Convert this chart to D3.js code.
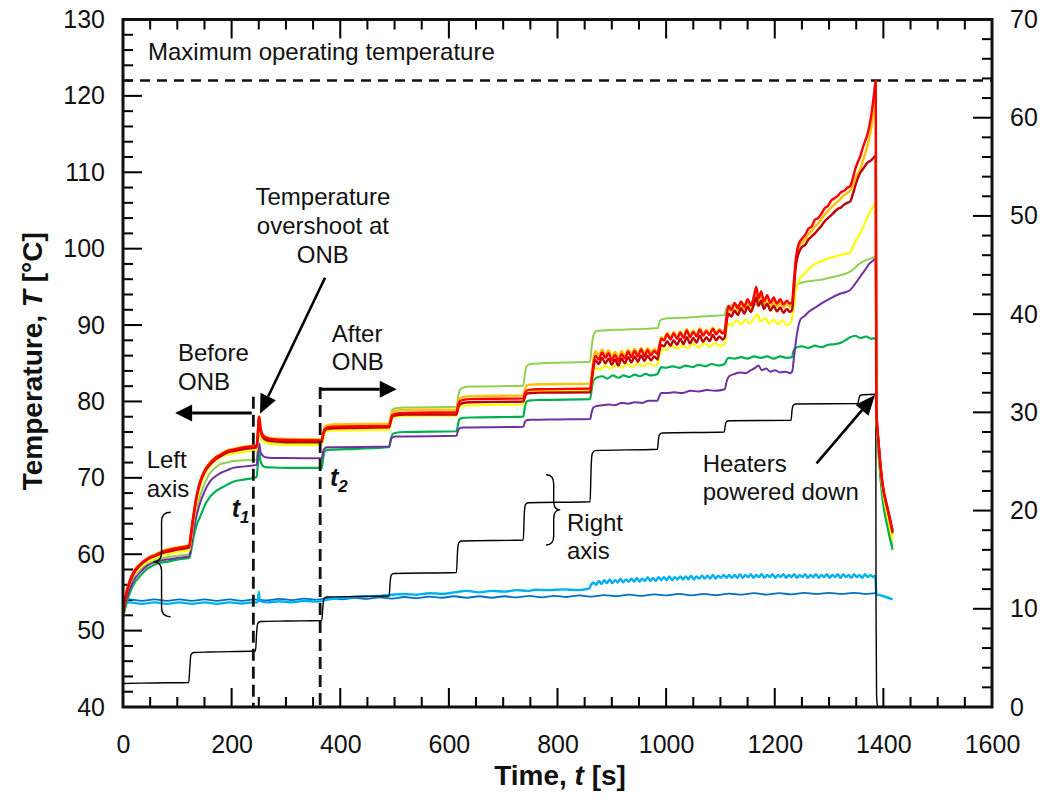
<!DOCTYPE html>
<html>
<head>
<meta charset="utf-8">
<script src="https://cdn.jsdelivr.net/npm/d3@7"></script>
</head>
<body style="margin:0">
<svg id="chart" width="1048" height="808" style="display:block;font-family:'Liberation Sans', Arial, sans-serif"></svg>
<script>
// tick labels
const xTicks = [0, 200, 400, 600, 800, 1000, 1200, 1400, 1600];
const leftTicks = [40, 50, 60, 70, 80, 90, 100, 110, 120, 130];
const rightTicks = [0, 10, 20, 30, 40, 50, 60, 70];

const maxTemp = 122; // maximum operating temperature
const t1 = 240;
const t2 = 363;

// [time s, temperature °C] (left axis)
const red = [[0,52.0],[3,53.8],[7,55.2],[13,56.6],[20,57.7],[31,58.6],[45,59.4],[60,59.9],[80,60.5],[100,60.8],[122,61.1],
  [125,62.6],[130,65.2],[136,67.8],[142,69.5],[150,70.9],[160,71.9],[170,72.6],[179,73.0],[192,73.5],[203,73.7],[225,74.0],[246,74.2],
  [248,75.5],[250,77.8],[251,78.0],[253,76.6],[256,75.8],[262,75.3],[275,75.05],[300,74.95],[366,74.9],
  [368,75.6],[371,76.3],[376,76.6],[390,76.7],[490,76.8],
  [493,77.6],[496,78.2],[502,78.4],[520,78.5],[614,78.6],
  [617,79.5],[620,80.0],[626,80.2],[640,80.3],[737,80.4],
  [740,81.0],[743,81.4],[750,81.55],[770,81.6],[860,81.7],
  [863,83.0],[866,84.8],[870,86.0],[876,85.5],[882,86.4],[888,85.7],[894,86.3],[900,85.4],[906,86.1],[912,85.3],[918,86.2],[924,85.6],[930,86.5],[936,85.8],[942,86.6],[948,85.9],[954,86.8],[960,85.9],[966,86.7],[972,86.0],[978,86.6],[984,86.2],
  [987,87.0],[991,88.2],[996,88.0],[1002,88.8],[1008,88.1],[1014,88.9],[1020,88.2],[1026,89.0],[1032,88.3],[1038,89.3],[1044,88.4],[1050,89.1],[1056,88.5],[1062,89.4],[1068,88.6],[1074,89.2],[1080,88.7],[1086,89.5],[1092,88.8],[1098,89.3],[1104,88.9],[1108,89.2],
  [1111,91.0],[1115,92.5],[1120,92.0],[1126,92.9],[1132,92.2],[1138,93.1],[1144,92.4],[1150,93.4],[1156,92.6],[1162,93.9],[1166,95.0],[1170,93.5],[1175,94.4],[1180,93.1],[1186,93.9],[1192,92.9],[1198,93.6],[1204,92.8],[1210,93.4],[1216,92.7],[1222,93.2],[1228,92.8],[1232,93.0],
  [1235,95.5],[1239,98.8],[1244,100.6],[1250,101.3],[1256,101.8],[1262,102.6],[1268,102.9],[1274,103.8],[1280,104.0],[1286,104.6],[1292,105.3],[1298,105.6],[1304,106.3],[1310,106.6],[1316,106.9],[1322,107.4],[1328,107.6],[1334,108.0],[1339,108.2],[1344,109.3],[1349,110.6],[1354,111.5],[1358,112.2],[1362,113.2],[1366,114.0],[1370,114.8],[1374,116.0],[1378,117.6],[1382,119.8],[1386,122.0],
  [1387,79.4],[1391,74.8],[1398,69.5],[1408,66.0],[1417,63.1]];

const darkRed = [[0,52.0],[3,53.7],[7,55.0],[13,56.4],[20,57.5],[31,58.5],[45,59.3],[60,59.8],[80,60.3],[100,60.6],[122,60.9],
  [125,62.4],[130,65.0],[136,67.6],[142,69.3],[150,70.7],[160,71.7],[170,72.4],[179,72.8],[192,73.3],[203,73.5],[225,73.8],[246,74.0],
  [248,75.2],[250,77.4],[251,77.6],[253,76.3],[256,75.5],[262,75.0],[275,74.8],[300,74.7],[366,74.7],
  [368,75.4],[371,76.1],[376,76.4],[390,76.5],[490,76.6],
  [493,77.4],[496,78.0],[502,78.2],[520,78.3],[614,78.3],
  [617,79.2],[620,79.6],[626,79.8],[640,79.9],[737,80.0],
  [740,80.6],[743,81.0],[750,81.1],[770,81.15],[860,81.2],
  [863,82.6],[866,84.3],[870,85.4],[876,84.9],[882,85.7],[888,85.0],[894,85.6],[900,84.8],[906,85.5],[912,84.7],[918,85.6],[924,85.0],[930,85.8],[936,85.1],[942,85.9],[948,85.2],[954,86.0],[960,85.3],[966,86.0],[972,85.4],[978,85.9],[984,85.5],
  [987,86.4],[991,87.4],[996,87.2],[1002,87.9],[1008,87.3],[1014,88.0],[1020,87.4],[1026,88.2],[1032,87.5],[1038,88.4],[1044,87.6],[1050,88.3],[1056,87.7],[1062,88.6],[1068,87.8],[1074,88.4],[1080,87.9],[1086,88.7],[1092,88.0],[1098,88.5],[1104,88.1],[1108,88.4],
  [1111,90.2],[1115,91.5],[1120,91.1],[1126,91.9],[1132,91.3],[1138,92.2],[1144,91.5],[1150,92.4],[1156,91.7],[1162,92.8],[1166,93.6],[1170,92.5],[1175,93.2],[1180,92.1],[1186,92.8],[1192,91.9],[1198,92.5],[1204,91.8],[1210,92.3],[1216,91.6],[1222,92.1],[1228,91.7],[1232,92.0],
  [1235,94.5],[1239,97.8],[1244,99.4],[1250,100.2],[1256,100.5],[1262,101.2],[1268,101.6],[1274,102.0],[1280,102.5],[1286,103.0],[1292,103.6],[1298,104.0],[1304,104.4],[1310,104.8],[1316,105.2],[1322,105.4],[1328,105.8],[1334,106.0],[1339,106.2],[1344,107.2],[1349,108.4],[1354,109.4],[1358,110.0],[1362,110.4],[1366,110.8],[1370,111.2],[1374,111.4],[1378,111.6],[1382,111.9],[1386,112.2],
  [1387,79.0],[1391,74.6],[1398,69.3],[1408,65.8],[1417,62.8]];

const orange = [[0,52.1],[3,53.9],[7,55.3],[13,56.7],[20,57.8],[31,58.7],[45,59.5],[60,60.0],[80,60.6],[100,60.9],[122,61.2],
  [125,62.7],[130,65.3],[136,67.9],[142,69.6],[150,71.0],[160,72.0],[170,72.7],[179,73.1],[192,73.6],[203,73.8],[225,74.1],[246,74.3],
  [248,75.6],[250,77.9],[251,78.1],[253,76.7],[256,75.9],[262,75.4],[275,75.15],[300,75.1],[366,75.05],
  [368,75.8],[371,76.6],[376,76.9],[390,77.0],[490,77.1],
  [493,78.0],[496,78.6],[502,78.8],[520,78.9],[614,78.95],
  [617,79.9],[620,80.4],[626,80.6],[640,80.7],[737,80.8],
  [740,81.6],[743,82.1],[750,82.2],[770,82.25],[860,82.3],
  [863,83.6],[866,85.4],[870,86.6],[876,86.0],[882,86.8],[888,86.1],[894,86.7],[900,85.9],[906,86.5],[912,85.8],[918,86.6],[924,86.0],[930,86.8],[936,86.2],[942,86.9],[948,86.3],[954,87.0],[960,86.3],[966,87.0],[972,86.4],[978,86.9],[984,86.5],
  [987,87.3],[991,88.4],[996,88.2],[1002,89.0],[1008,88.3],[1014,89.1],[1020,88.4],[1026,89.2],[1032,88.5],[1038,89.5],[1044,88.6],[1050,89.3],[1056,88.7],[1062,89.6],[1068,88.8],[1074,89.4],[1080,88.9],[1086,89.7],[1092,89.0],[1098,89.5],[1104,89.1],[1108,89.4],
  [1111,90.8],[1115,92.2],[1120,91.8],[1126,92.6],[1132,91.9],[1138,92.8],[1144,92.1],[1150,93.0],[1156,92.3],[1162,93.5],[1166,94.4],[1170,93.1],[1175,93.9],[1180,92.7],[1186,93.5],[1192,92.5],[1198,93.2],[1204,92.4],[1210,93.0],[1216,92.3],[1222,92.8],[1228,92.4],[1232,92.6],
  [1235,95.0],[1239,98.2],[1244,100.0],[1250,100.8],[1256,101.2],[1262,101.9],[1268,102.3],[1274,102.9],[1280,103.3],[1286,103.9],[1292,104.5],[1298,104.9],[1304,105.4],[1310,105.8],[1316,106.2],[1322,106.6],[1328,107.0],[1334,107.3],[1339,107.6],[1344,108.4],[1349,109.3],[1354,110.0],[1358,110.5],[1362,111.5],[1366,112.3],[1370,113.3],[1374,114.5],[1378,116.0],[1382,117.8],[1386,119.5],
  [1387,79.2],[1391,74.6],[1398,69.3],[1408,65.6],[1417,62.6]];

const yellow = [[0,52.3],[3,53.8],[7,55.0],[13,56.3],[20,57.3],[31,58.2],[45,59.0],[60,59.5],[80,60.0],[100,60.3],[122,60.5],
  [125,61.8],[130,64.4],[136,67.0],[142,68.9],[150,70.4],[160,71.5],[170,72.2],[179,72.7],[192,73.0],[203,73.2],[225,73.4],[246,73.6],
  [248,74.8],[250,76.9],[251,77.1],[253,75.8],[256,75.0],[262,74.6],[275,74.4],[300,74.3],[366,74.3],
  [368,75.0],[371,75.8],[376,76.1],[390,76.2],[490,76.3],
  [493,77.2],[496,77.8],[502,78.0],[520,78.1],[614,78.15],
  [617,78.9],[620,79.3],[626,79.45],[640,79.5],[737,79.6],
  [740,80.6],[743,81.1],[750,81.3],[770,81.35],[860,81.4],
  [863,82.3],[866,83.6],[870,84.4],[878,84.2],[888,84.7],[898,84.3],[908,84.8],[918,84.4],[928,84.9],[938,84.5],[948,85.0],[958,84.6],[968,85.0],[978,84.7],[985,84.9],
  [987,85.7],[991,86.8],[1000,86.7],[1010,87.2],[1020,86.9],[1030,87.3],[1040,87.0],[1050,87.5],[1060,87.1],[1070,87.6],[1080,87.2],[1090,87.6],[1100,87.3],[1108,87.5],
  [1111,89.2],[1115,90.2],[1122,90.0],[1130,90.6],[1138,90.1],[1146,90.7],[1154,90.2],[1162,90.9],[1168,91.4],[1174,90.5],[1182,90.9],[1190,90.2],[1198,90.7],[1206,90.1],[1214,90.6],[1222,90.0],[1230,90.4],
  [1234,91.8],[1238,94.2],[1244,95.8],[1250,96.4],[1258,97.0],[1266,97.6],[1277,98.1],[1288,98.4],[1298,98.7],[1308,98.9],[1318,99.1],[1328,99.3],[1339,99.5],[1346,100.6],[1352,101.4],[1357,102.0],[1364,103.0],[1370,104.0],[1376,104.9],[1382,105.6],[1386,106.0],
  [1387,78.8],[1391,74.2],[1398,68.8],[1408,64.9],[1417,61.9]];

const lightGreen = [[0,52.4],[3,53.7],[7,54.9],[13,56.1],[20,57.1],[31,58.0],[45,58.7],[60,59.2],[80,59.6],[100,59.8],[122,60.0],
  [125,61.2],[130,63.6],[136,66.0],[142,67.6],[150,69.2],[160,70.6],[170,71.3],[179,71.8],[192,72.0],[203,72.2],[225,72.3],[246,72.4],
  [248,73.8],[250,76.2],[251,76.5],[253,75.4],[256,74.9],[262,74.7],[275,74.6],[300,74.55],[366,74.5],
  [368,75.4],[371,76.5],[376,76.85],[390,76.95],[490,77.1],
  [493,78.1],[496,78.9],[502,79.1],[520,79.2],[614,79.3],
  [617,80.6],[620,81.5],[626,81.8],[640,81.95],[737,82.05],
  [740,83.6],[743,84.6],[750,84.9],[770,85.0],[860,85.2],
  [863,87.2],[866,88.6],[871,89.2],[885,89.3],[920,89.4],[960,89.5],[985,89.6],
  [987,90.2],[991,90.7],[1000,90.85],[1040,91.0],[1080,91.2],[1108,91.3],
  [1110,92.0],[1114,92.5],[1125,92.6],[1170,92.7],[1232,92.8],
  [1234,94.0],[1239,95.2],[1247,95.5],[1270,95.8],[1290,96.0],[1308,96.3],[1325,96.6],[1339,97.0],[1348,97.5],[1357,98.1],[1368,98.5],[1380,98.8],[1386,99.0],
  [1387,78.6],[1391,73.8],[1398,68.2],[1408,64.0],[1417,61.1]];

const green = [[0,51.6],[3,52.6],[7,53.7],[13,55.0],[20,56.1],[31,57.1],[45,58.1],[60,58.7],[80,59.0],[100,59.3],[122,59.5],
  [125,60.3],[130,62.3],[136,63.9],[142,64.9],[150,66.3],[160,67.5],[170,68.2],[179,68.6],[192,69.1],[203,69.5],[225,69.8],[246,70.1],
  [248,71.5],[250,73.2],[251,73.4],[253,72.3],[256,71.7],[262,71.4],[275,71.35],[300,71.3],[366,71.3],
  [368,72.3],[371,73.4],[376,73.65],[390,73.7],[430,73.8],[490,74.0],
  [493,75.0],[496,75.7],[502,75.9],[520,76.0],[614,76.1],
  [617,77.1],[620,77.7],[626,77.85],[640,77.9],[737,78.0],
  [740,79.3],[743,80.0],[750,80.15],[770,80.2],[860,80.3],
  [863,81.6],[866,82.7],[872,83.1],[882,83.3],[892,83.0],[902,83.4],[912,83.1],[922,83.4],[932,83.2],[942,83.5],[952,83.3],[962,83.6],[972,83.4],[984,83.6],
  [987,84.0],[991,84.5],[1000,84.4],[1012,84.6],[1024,84.4],[1036,84.7],[1048,84.5],[1060,84.8],[1072,84.6],[1084,84.9],[1096,84.7],[1108,84.9],
  [1111,85.4],[1115,85.7],[1126,85.6],[1138,85.8],[1150,85.6],[1162,85.9],[1174,85.7],[1186,85.9],[1198,85.6],[1210,85.9],[1222,85.7],[1232,85.8],
  [1234,86.5],[1238,87.0],[1250,87.2],[1262,87.0],[1274,87.3],[1286,87.1],[1298,87.4],[1310,87.5],[1322,87.7],[1330,88.0],[1339,88.4],[1348,88.6],[1358,88.3],[1368,88.5],[1378,88.2],[1386,88.3],
  [1387,78.0],[1391,73.2],[1398,67.5],[1408,63.4],[1417,60.6]];

const purple = [[0,52.0],[3,53.2],[7,54.3],[13,55.5],[20,56.6],[31,57.6],[45,58.5],[60,59.0],[80,59.3],[100,59.5],[122,59.7],
  [125,60.8],[130,63.1],[136,65.2],[142,66.7],[150,68.2],[160,69.5],[170,70.2],[179,70.6],[192,71.0],[203,71.3],[225,71.5],[246,71.7],
  [248,73.0],[250,74.4],[251,74.5],[253,73.5],[256,73.0],[262,72.7],[275,72.6],[300,72.6],[366,72.55],
  [368,73.3],[371,73.85],[376,74.0],[390,74.0],[490,74.1],
  [493,74.9],[496,75.3],[502,75.4],[520,75.4],[614,75.5],
  [617,76.2],[620,76.5],[626,76.6],[640,76.6],[737,76.7],
  [740,77.3],[743,77.55],[750,77.6],[800,77.65],[860,77.7],
  [863,78.6],[866,79.2],[872,79.4],[882,79.5],[895,79.6],[905,79.5],[918,79.8],[930,79.7],[942,79.9],[955,79.8],[968,80.1],[984,80.1],
  [987,80.6],[991,81.1],[1000,81.1],[1015,81.2],[1030,81.1],[1045,81.4],[1060,81.3],[1075,81.5],[1090,81.4],[1108,81.6],
  [1111,82.5],[1116,83.3],[1126,83.6],[1136,83.8],[1146,83.7],[1156,84.1],[1164,84.4],[1170,84.7],[1176,84.1],[1184,84.3],[1192,83.9],[1200,84.1],[1210,83.8],[1220,83.9],[1228,83.7],[1232,83.9],
  [1235,85.5],[1240,88.4],[1247,90.7],[1255,91.2],[1264,91.8],[1277,92.4],[1290,93.0],[1300,93.4],[1308,93.7],[1320,94.1],[1330,94.3],[1339,94.6],[1348,95.4],[1357,96.3],[1366,97.2],[1374,98.0],[1382,98.5],[1386,98.7],
  [1387,79.3],[1391,74.7],[1398,69.4],[1408,65.9],[1417,63.1]];

const lightBlue = [[0,53.55],[12,53.7],[35,53.5],[58,53.7],[81,53.5],[104,53.7],[127,53.5],[150,53.7],[173,53.5],[196,53.7],[219,53.55],[240,53.7],
  [248,53.7],[250,55.1],[252,53.9],[265,53.7],[288,53.85],[311,53.7],[334,53.9],[357,53.8],[380,54.1],[403,54.3],[426,54.4],[449,54.5],[472,54.55],
  [495,54.7],[518,54.8],[541,54.7],[564,54.9],[587,54.8],[610,55.0],[633,55.2],[656,55.0],[679,55.2],[702,55.1],[725,55.3],[745,55.2],[760,55.35],[785,55.3],[810,55.4],[835,55.3],[858,55.5],
  [862,56.0],[866,56.3],[871,56.0],[876,56.5],[881,56.1],[886,56.6],[891,56.2],[896,56.7],[901,56.2],[906,56.6],[911,56.3],[916,56.8],[921,56.3],[926,56.7],[931,56.4],[936,56.8],[941,56.4],[946,56.9],[951,56.4],[956,56.8],[961,56.5],[966,57.0],[971,56.5],[976,56.9],[981,56.5],[986,57.0],[991,56.6],[996,57.0],[1001,56.6],[1006,57.1],[1011,56.6],[1016,57.0],[1021,56.7],[1026,57.1],[1031,56.7],[1036,57.1],[1041,56.7],[1046,57.2],[1051,56.7],[1056,57.1],[1061,56.8],[1066,57.2],[1071,56.8],[1076,57.2],[1081,56.8],[1086,57.3],[1091,56.8],[1096,57.2],[1101,56.9],[1106,57.3],[1111,56.9],[1116,57.3],[1121,56.9],[1126,57.3],[1131,56.9],[1136,57.4],[1141,56.9],[1146,57.3],[1151,57.0],[1156,57.4],[1161,56.9],[1166,57.3],[1171,57.0],[1176,57.4],[1181,56.9],[1186,57.3],[1191,57.0],[1196,57.4],[1201,56.9],[1206,57.3],[1211,57.0],[1216,57.4],[1221,56.9],[1226,57.3],[1231,57.0],[1236,57.4],[1241,56.9],[1246,57.3],[1251,57.0],[1256,57.4],[1261,56.9],[1266,57.3],[1271,57.0],[1276,57.4],[1281,56.9],[1286,57.3],[1291,57.0],[1296,57.4],[1301,56.9],[1306,57.3],[1311,57.0],[1316,57.4],[1321,56.9],[1326,57.4],[1331,57.0],[1336,57.3],[1341,56.9],[1346,57.4],[1351,57.0],[1356,57.3],[1361,56.9],[1366,57.4],[1371,57.0],[1376,57.3],[1381,57.0],[1385,57.2],
  [1387,54.8],[1395,54.6],[1405,54.4],[1417,54.1]];

const blue = [[0,53.95],[12,54.1],[35,53.9],[58,54.1],[81,53.9],[104,54.1],[127,53.9],[150,54.1],[173,53.9],[196,54.1],[219,53.9],[242,54.1],[265,53.95],[288,54.15],[311,54.0],[334,54.2],[357,54.05],[380,54.25],[403,54.1],[426,54.3],[449,54.15],[472,54.35],[495,54.2],[518,54.4],[541,54.25],[564,54.45],[587,54.3],[610,54.5],[633,54.3],[656,54.5],[679,54.3],[702,54.5],[725,54.35],[748,54.55],[771,54.35],[794,54.55],[817,54.4],[840,54.6],[863,54.45],[886,54.65],[909,54.5],[932,54.7],[955,54.55],[978,54.75],[1001,54.6],[1024,54.8],[1047,54.6],[1070,54.8],[1093,54.65],[1116,54.85],[1139,54.7],[1162,54.9],[1185,54.7],[1208,54.9],[1231,54.75],[1254,54.95],[1277,54.8],[1300,54.95],[1323,54.8],[1346,54.95],[1369,54.8],[1386,54.9]];

// heater step, right axis
const power = [[0,2.4],[60,2.45],[121,2.5],[123,4.0],[125,5.3],[130,5.55],[160,5.6],[244,5.7],[246,7.5],[248,8.5],[253,8.7],[300,8.75],[366,8.8],
  [368,10.2],[370,11.0],[375,11.2],[430,11.25],[490,11.3],[492,12.8],[494,13.45],[499,13.6],[614,13.7],[616,15.9],[618,16.7],[623,16.9],[737,17.0],
  [739,19.8],[741,20.6],[746,20.8],[860,20.9],[862,24.5],[864,25.8],[869,26.1],[984,26.25],[986,27.3],[988,27.75],[993,27.9],[1107,28.0],
  [1109,28.7],[1111,29.05],[1116,29.15],[1230,29.2],[1232,30.3],[1234,30.7],[1239,30.85],[1353,30.9],[1355,31.4],[1357,31.7],[1362,31.8],[1385,31.85],
  [1386,31.0],[1386.5,10],[1387.5,1.2],[1389,0.2],[1392,0],[1400,0]];

const svg = d3.select('#chart');
const plot = { left: 123, right: 992, top: 19.5, bottom: 707 };

const x = d3.scaleLinear().domain([0, 1600]).range([plot.left, plot.right]);
const yL = d3.scaleLinear().domain([40, 130]).range([plot.bottom, plot.top]);
const yR = d3.scaleLinear().domain([0, 70]).range([plot.bottom, plot.top]);

// tick marks, all pointing inside
const tickG = svg.append('g').attr('fill', '#000');
const xTickMarks = d3.range(0, 1601, 50).map(v => ({ p: x(v), len: v % 200 === 0 ? 19 : 10 }));
tickG.selectAll('rect.xb').data(xTickMarks).join('rect').attr('class', 'xb')
  .attr('x', d => d.p - 1).attr('y', d => plot.bottom - d.len).attr('width', 2).attr('height', d => d.len);
tickG.selectAll('rect.xt').data(xTickMarks).join('rect').attr('class', 'xt')
  .attr('x', d => d.p - 1).attr('y', plot.top).attr('width', 2).attr('height', d => d.len);
tickG.selectAll('rect.yl').data(d3.range(40, 131, 2).map(v => ({ p: yL(v), len: v % 10 === 0 ? 19 : 10 })))
  .join('rect').attr('class', 'yl')
  .attr('x', plot.left).attr('y', d => d.p - 1).attr('width', d => d.len).attr('height', 2);
tickG.selectAll('rect.yr').data(d3.range(0, 71, 2).map(v => ({ p: yR(v), len: v % 10 === 0 ? 19 : 10 })))
  .join('rect').attr('class', 'yr')
  .attr('x', d => plot.right - d.len).attr('y', d => d.p - 1).attr('width', d => d.len).attr('height', 2);

// tick labels through d3 axes
function addLabels(axis, tx, ty) {
  const g = svg.append('g').attr('transform', `translate(${tx},${ty})`).call(axis);
  g.select('.domain').remove();
  g.selectAll('.tick line').remove();
  g.selectAll('.tick text').attr('font-size', 25).attr('fill', '#111');
}
addLabels(d3.axisBottom(x).tickValues(xTicks).tickSize(0).tickPadding(28).tickFormat(d3.format('d')), 0, plot.bottom);
addLabels(d3.axisLeft(yL).tickValues(leftTicks).tickSize(0).tickPadding(18), plot.left, 0);
addLabels(d3.axisRight(yR).tickValues(rightTicks).tickSize(0).tickPadding(18), plot.right, 0);

// max operating temperature
svg.append('line')
  .attr('x1', plot.left).attr('x2', plot.right)
  .attr('y1', yL(maxTemp)).attr('y2', yL(maxTemp))
  .attr('stroke', '#111').attr('stroke-width', 2.5).attr('stroke-dasharray', '10,7');

// data lines
const lineL = d3.line().x(d => x(d[0])).y(d => yL(d[1])).curve(d3.curveMonotoneX);
const lineR = d3.line().x(d => x(d[0])).y(d => yR(d[1])).curve(d3.curveMonotoneX);

const lines = svg.append('g').attr('fill', 'none').attr('stroke-linejoin', 'round');
lines.append('path').attr('d', lineL(blue)).attr('stroke', '#0070C0').attr('stroke-width', 1.8);
lines.append('path').attr('d', lineL(lightBlue)).attr('stroke', '#00B0F0').attr('stroke-width', 2.4);
lines.append('path').attr('d', lineR(power)).attr('stroke', '#000').attr('stroke-width', 1.4);

const tempSeries = [
  { data: lightGreen, color: '#92D050', w: 2 },
  { data: green, color: '#00B050', w: 2.2 },
  { data: purple, color: '#7030A0', w: 2 },
  { data: yellow, color: '#FFFF00', w: 2.2 },
  { data: orange, color: '#FFC000', w: 2.4 },
  { data: darkRed, color: '#C00000', w: 2.4 },
  { data: red, color: '#FF0000', w: 2.4 },
];
tempSeries.forEach(s => {
  lines.append('path').attr('d', lineL(s.data)).attr('stroke', s.color).attr('stroke-width', s.w);
});

// t1 / t2 markers
[[t1, 80.6], [t2, 81.9]].forEach(([t, top]) => {
  svg.append('line')
    .attr('x1', x(t)).attr('x2', x(t))
    .attr('y1', yL(top)).attr('y2', yL(40))
    .attr('stroke', '#111').attr('stroke-width', 2.8).attr('stroke-dasharray', '12,6');
});

// arrows
function arrow(p0, p1, w, headLen, headHalf) {
  const [x0, y0] = [x(p0[0]), yL(p0[1])];
  const [x1, y1] = [x(p1[0]), yL(p1[1])];
  const a = Math.atan2(y1 - y0, x1 - x0);
  const bx = x1 - headLen * Math.cos(a), by = y1 - headLen * Math.sin(a);
  svg.append('line').attr('x1', x0).attr('y1', y0).attr('x2', bx).attr('y2', by)
    .attr('stroke', '#000').attr('stroke-width', w);
  const nx = -Math.sin(a) * headHalf, ny = Math.cos(a) * headHalf;
  svg.append('path')
    .attr('d', `M${x1},${y1}L${bx + nx},${by + ny}L${bx - nx},${by - ny}Z`)
    .attr('fill', '#000');
}
arrow([237, 78.5], [96, 78.5], 3, 17, 8.5);
arrow([t2, 81.6], [504, 81.6], 3, 17, 8.5);
arrow([372, 96.2], [252.2, 78.4], 2.6, 19, 8.5);
arrow([1277, 71.9], [1384.6, 80.85], 2.6, 20, 8.5);

// braces
function brace(xe, xs, xt, yTop, yTip, yBot) {
  const [e, s, tt] = [x(xe), x(xs), x(xt)];
  const [a, m, b] = [yL(yTop), yL(yTip), yL(yBot)];
  svg.append('path')
    .attr('d', `M${e},${a}Q${s},${a} ${s},${a + 9}L${s},${m - 9}Q${s},${m} ${tt},${m}` +
      `Q${s},${m} ${s},${m + 9}L${s},${b - 9}Q${s},${b} ${e},${b}`)
    .attr('fill', 'none').attr('stroke', '#000').attr('stroke-width', 1.4);
}
brace(88, 71, 56, 65.5, 59, 51.8);
brace(779, 793, 805, 70.4, 65.8, 61.2);

// annotation text
function note(t, T, str, anchor) {
  return svg.append('text').attr('font-size', 24).attr('fill', '#111')
    .attr('x', x(t)).attr('y', yL(T))
    .attr('text-anchor', anchor || 'start').text(str);
}
note(46, 124.7, 'Maximum operating temperature');
note(368, 105.72, 'Temperature', 'middle');
note(368, 101.92, 'overshoot at', 'middle');
note(368, 98.12, 'ONB', 'middle');
note(101.3, 85.3, 'Before');
note(101.3, 81.5, 'ONB');
note(384.3, 87.82, 'After');
note(384.3, 84.11, 'ONB');
note(43.6, 71.29, 'Left');
note(43.6, 67.53, 'axis');
note(817.5, 63.04, 'Right');
note(817.5, 59.38, 'axis');
note(1067.3, 70.8, 'Heaters');
note(1067.3, 67.1, 'powered down');

function tLabel(t, T, sub) {
  const txt = svg.append('text').attr('x', x(t)).attr('y', yL(T))
    .attr('font-weight', 'bold').attr('font-style', 'italic').attr('font-size', 25).attr('fill', '#111');
  txt.append('tspan').text('t');
  txt.append('tspan').attr('font-size', 17).attr('dy', 6).text(sub);
}
tLabel(200, 64.9, '1');
tLabel(381, 68.9, '2');

// axis titles
const yTitle = svg.append('text')
  .attr('transform', `translate(42,${(plot.top + plot.bottom) / 2 - 2}) rotate(-90)`)
  .attr('text-anchor', 'middle').attr('font-weight', 'bold').attr('font-size', 28).attr('fill', '#111');
yTitle.append('tspan').text('Temperature, ');
yTitle.append('tspan').attr('font-style', 'italic').text('T');
yTitle.append('tspan').text(' [°C]');

const xTitle = svg.append('text')
  .attr('x', 560).attr('y', 785)
  .attr('text-anchor', 'middle').attr('font-weight', 'bold').attr('font-size', 28).attr('fill', '#111');
xTitle.append('tspan').text('Time, ');
xTitle.append('tspan').attr('font-style', 'italic').text('t');
xTitle.append('tspan').text(' [s]');

// frame
svg.append('rect')
  .attr('x', plot.left).attr('y', plot.top)
  .attr('width', plot.right - plot.left).attr('height', plot.bottom - plot.top)
  .attr('fill', 'none').attr('stroke', '#111').attr('stroke-width', 3);
</script>
</body>
</html>
